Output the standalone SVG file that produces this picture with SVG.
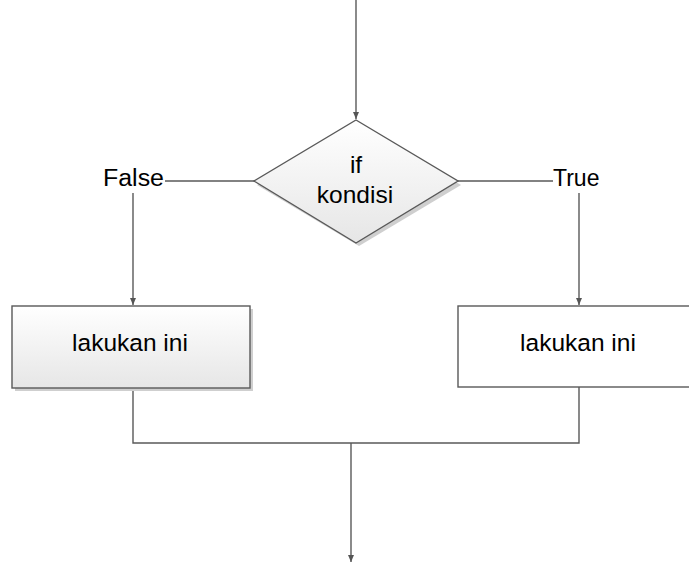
<svg xmlns="http://www.w3.org/2000/svg" width="689" height="567" viewBox="0 0 689 567">
<defs>
<linearGradient id="g" x1="0" y1="0" x2="0" y2="1">
<stop offset="0" stop-color="#ffffff"/>
<stop offset="1" stop-color="#e6e6e6"/>
</linearGradient>
<marker id="a" markerWidth="8" markerHeight="8" refX="7" refY="4" orient="auto" markerUnits="userSpaceOnUse">
<path d="M0,1 L7,4 L0,7 Z" fill="#555"/>
</marker>
<style>
.ln{stroke:#595959;stroke-width:1.4;fill:none}
.sh{fill:#cfcfcf}
.t{font-family:"Liberation Sans",Arial,sans-serif;font-size:24.5px;fill:#000}
.lb{font-family:"Liberation Sans",Arial,sans-serif;font-size:23px;fill:#000}
</style>
</defs>
<g id="connectors">
<line class="ln" x1="356" y1="0" x2="356" y2="119" marker-end="url(#a)"/>
<line class="ln" x1="254" y1="181" x2="165" y2="181"/>
<line class="ln" x1="458" y1="181" x2="553" y2="181"/>
<line class="ln" x1="133" y1="193" x2="133" y2="305" marker-end="url(#a)"/>
<line class="ln" x1="579" y1="193" x2="579" y2="305" marker-end="url(#a)"/>
<polyline class="ln" points="133,388 133,443 579,443 579,387"/>
<line class="ln" x1="351" y1="443" x2="351" y2="562" marker-end="url(#a)"/>
</g>
<g id="cond">
<polygon class="sh" points="359,124 461,185 359,246 257,185"/>
<polygon points="356,120 458,181 356,243 254,181" fill="url(#g)" stroke="#595959" stroke-width="1.4"/>
<text class="t" x="356" y="173" text-anchor="middle">if</text>
<text class="t" x="355" y="203" text-anchor="middle">kondisi</text>
</g>
<g id="lblFalse"><text class="lb" x="103" y="186" textLength="61" lengthAdjust="spacingAndGlyphs">False</text></g>
<g id="lblTrue"><text class="lb" x="553" y="186">True</text></g>
<g id="left">
<rect class="sh" x="15" y="309" width="238" height="82"/>
<rect x="12" y="306" width="238" height="82" fill="url(#g)" stroke="#595959" stroke-width="1.4"/>
<text class="t" x="130" y="351" text-anchor="middle">lakukan ini</text>
</g>
<g id="right">
<rect x="458" y="306" width="240" height="81" fill="#fff" stroke="#595959" stroke-width="1.4"/>
<text class="t" x="578" y="351" text-anchor="middle">lakukan ini</text>
</g>
</svg>
